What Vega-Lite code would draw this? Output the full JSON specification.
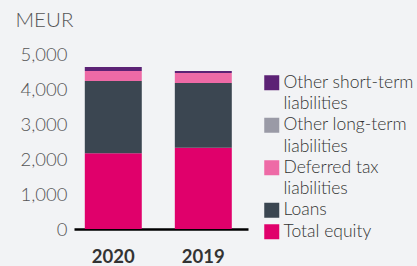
{
  "$schema": "https://vega.github.io/schema/vega-lite/v6.json",
  "autosize": {"type": "none"},
  "padding": {"left": 74, "top": 54, "right": 169, "bottom": 37},
  "width": 174,
  "height": 175,
  "background": "#f2f3f5",
  "config": {"view": {"stroke": null}, "font": "Lato"},
  "data": {"values": [
    {"year": "2020", "cat": "Total equity", "o": 1, "v": 2163},
    {"year": "2020", "cat": "Loans", "o": 2, "v": 2066},
    {"year": "2020", "cat": "Deferred tax liabilities", "o": 3, "v": 285},
    {"year": "2020", "cat": "Other long-term liabilities", "o": 4, "v": 0},
    {"year": "2020", "cat": "Other short-term liabilities", "o": 5, "v": 116},
    {"year": "2019", "cat": "Total equity", "o": 1, "v": 2323},
    {"year": "2019", "cat": "Loans", "o": 2, "v": 1848},
    {"year": "2019", "cat": "Deferred tax liabilities", "o": 3, "v": 286},
    {"year": "2019", "cat": "Other long-term liabilities", "o": 4, "v": 0},
    {"year": "2019", "cat": "Other short-term liabilities", "o": 5, "v": 57}
  ]},
  "mark": {"type": "bar"},
  "encoding": {
    "x": {"field": "year", "type": "nominal", "sort": ["2020", "2019"],
      "scale": {"paddingInner": 0.367, "paddingOuter": 0.15, "align": 0.4},
      "axis": {"title": null, "labelAngle": 0, "ticks": false, "domainColor": "#000000", "domainWidth": 2.5,
        "labelFontSize": 18.5, "labelFontWeight": "bold", "labelColor": "#333333", "labelPadding": 18}},
    "y": {"field": "v", "type": "quantitative", "stack": "zero",
      "scale": {"domain": [0, 5000]},
      "axis": {"values": [0, 1000, 2000, 3000, 4000, 5000], "grid": false, "domain": false, "ticks": false,
        "labelFontSize": 18.5, "labelColor": "#555555", "labelPadding": 7, "labelFontWeight": 300,
        "title": "MEUR", "titleAngle": 0, "titleX": -59, "titleY": -34, "titleAlign": "left", "titleBaseline": "middle",
        "titleFontSize": 20.5, "titleFontWeight": 300, "titleColor": "#555555"}},
    "color": {"field": "cat", "type": "nominal",
      "scale": {
        "domain": ["Other short-term liabilities", "Other long-term liabilities", "Deferred tax liabilities", "Loans", "Total equity"],
        "range": ["#5c2275", "#9a9aa6", "#ee6aa6", "#3b4651", "#e0006b"]},
      "legend": {"title": null, "orient": "none", "legendX": 189, "legendY": 20,
        "symbolType": "square", "symbolSize": 225, "symbolStrokeWidth": 0, "symbolOpacity": 1,
        "labelFontSize": 17.5, "labelColor": "#333333", "labelFontWeight": 300, "labelOffset": 3, "rowPadding": 2.5,
        "encode": {"labels": {"update": {"lineHeight": {"value": 21.5}}}},
        "labelExpr": "datum.label == 'Other short-term liabilities' ? ['Other short-term', 'liabilities'] : datum.label == 'Other long-term liabilities' ? ['Other long-term', 'liabilities'] : datum.label == 'Deferred tax liabilities' ? ['Deferred tax', 'liabilities'] : datum.label"}},
    "order": {"field": "o", "type": "quantitative"}
  }
}
